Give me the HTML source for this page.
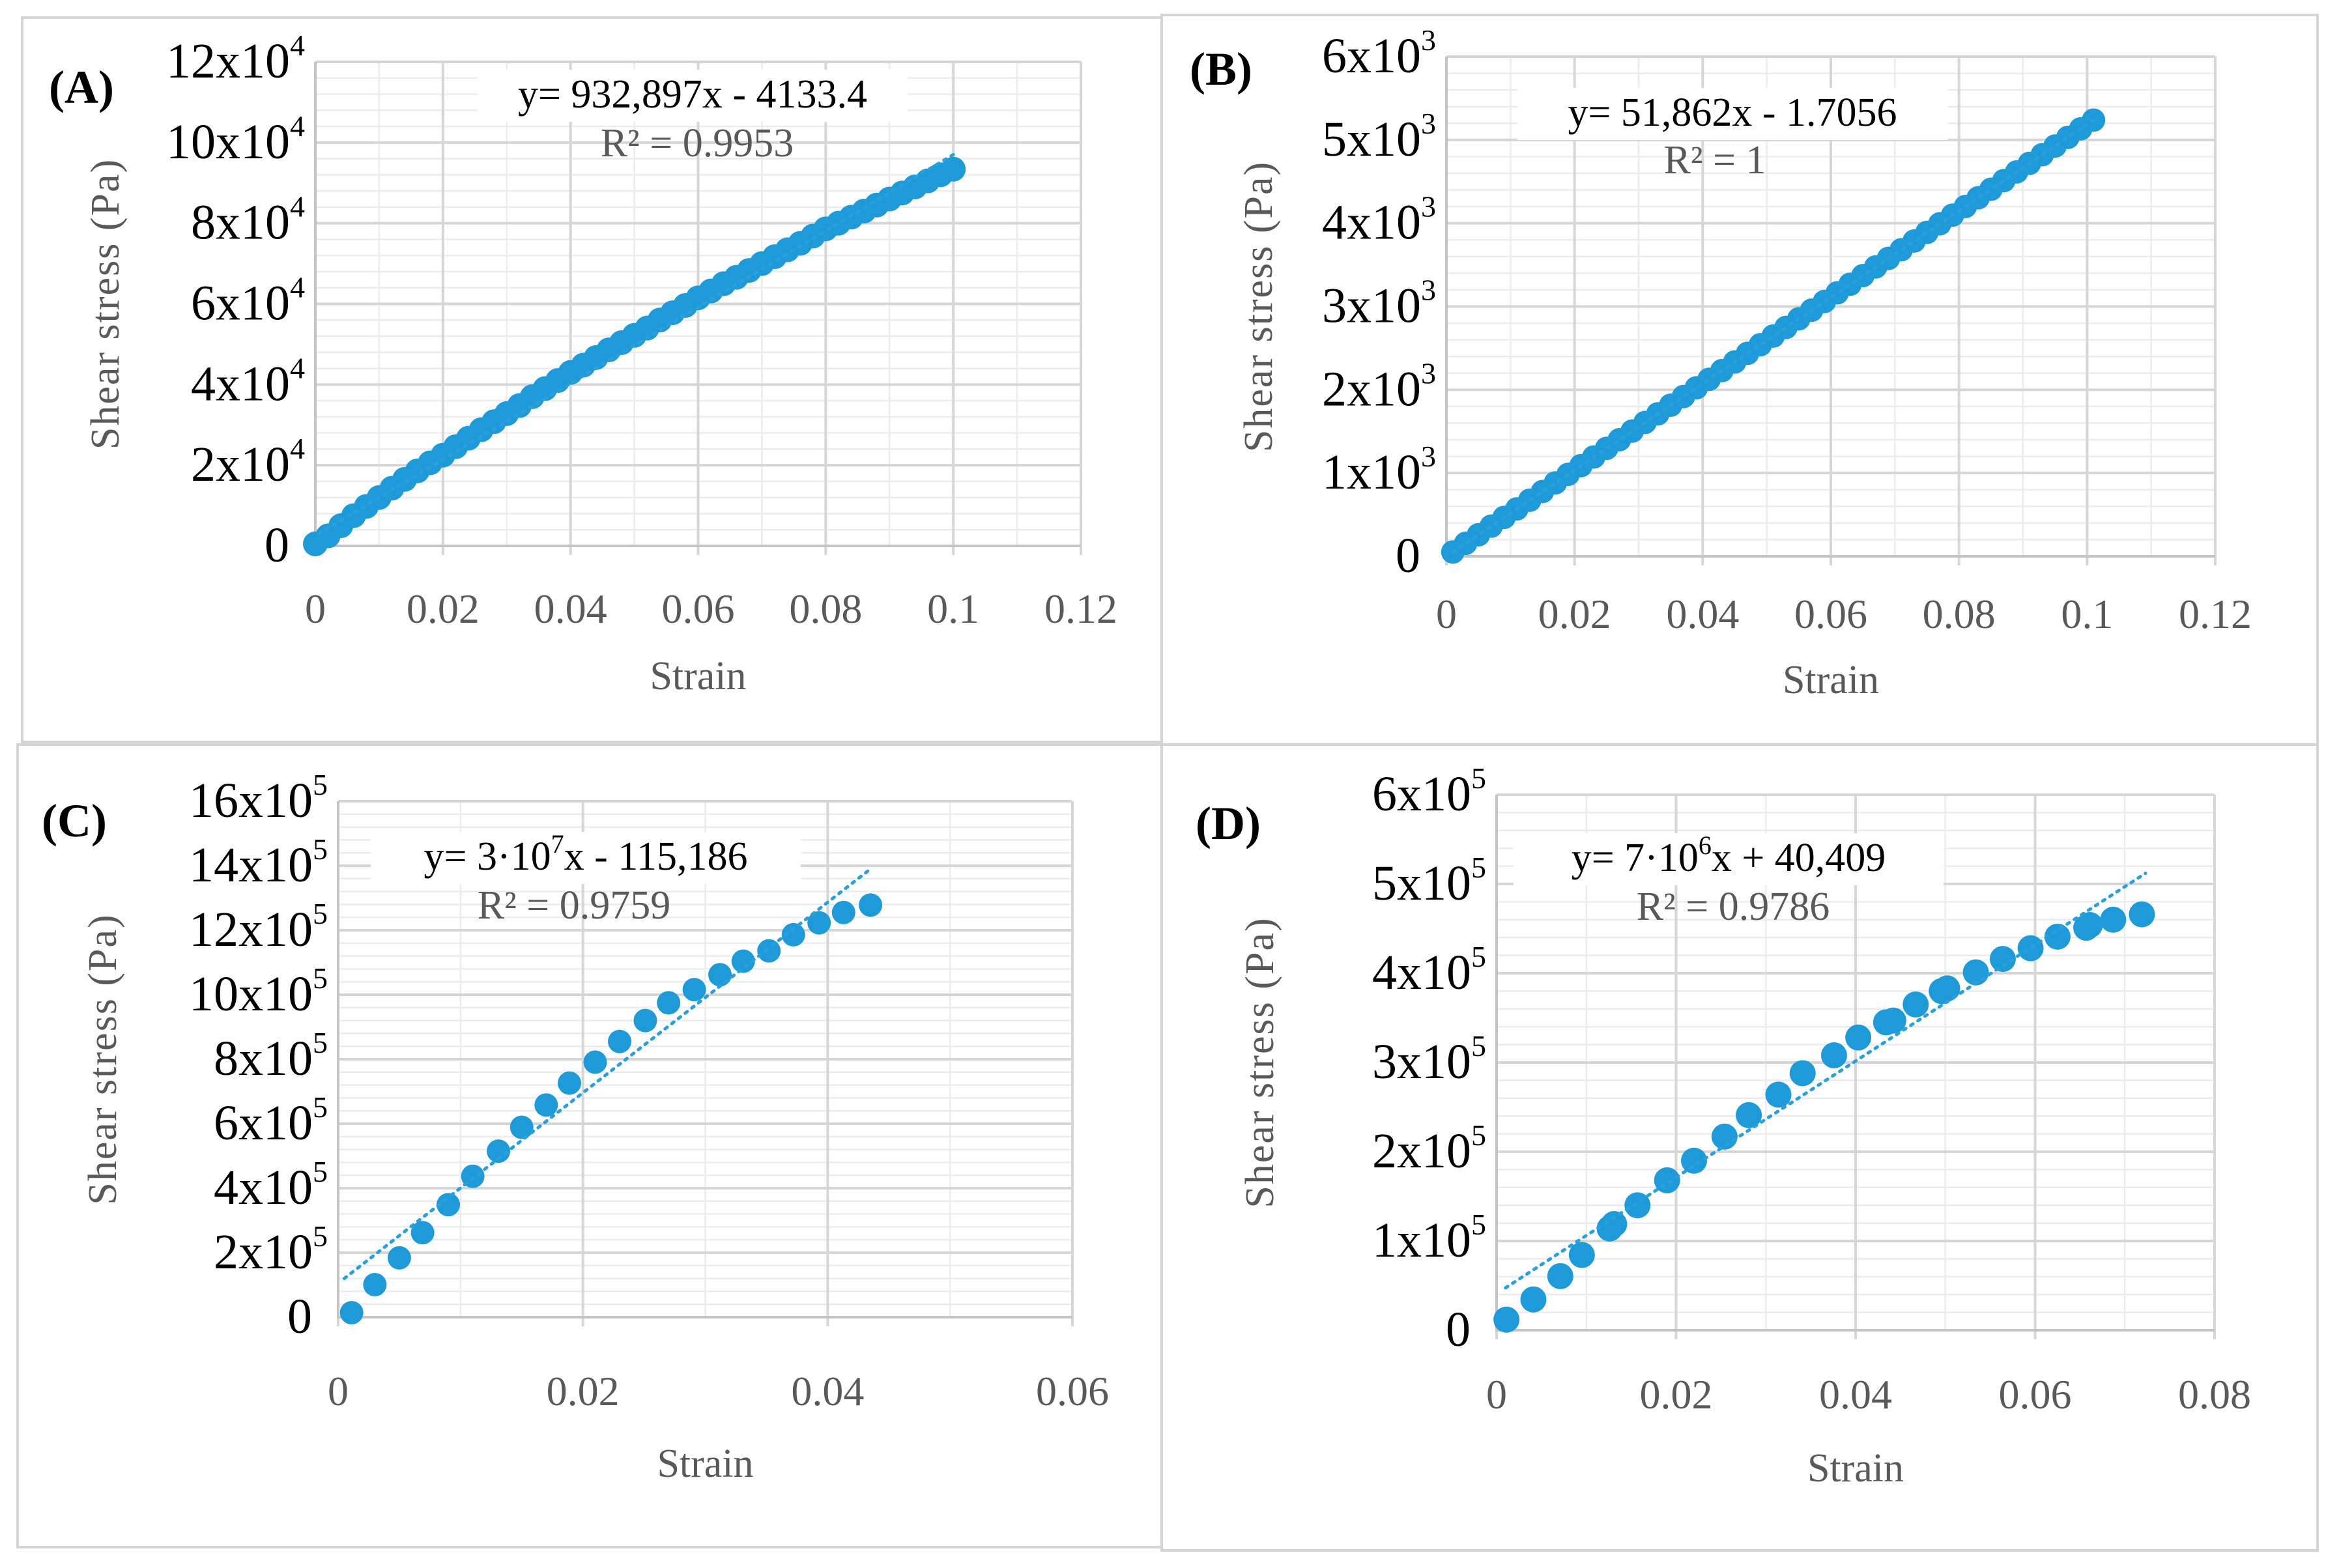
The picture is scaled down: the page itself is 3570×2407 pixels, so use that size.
<!DOCTYPE html>
<html><head><meta charset="utf-8"><style>
html,body{margin:0;padding:0;background:#fff}
svg{display:block}
text{font-family:"Liberation Serif",serif}
</style></head><body>
<svg id="fig" width="3570" height="2407" viewBox="0 0 3570 2407" xmlns="http://www.w3.org/2000/svg">
<rect x="0" y="0" width="3570" height="2407" fill="#fff"/>
</svg>
<script>
// Panel A data
const aX=[0,0.002,0.004,0.006,0.008,0.01,0.012,0.014,0.016,0.018,0.02,0.022,0.024,0.026,0.028,0.03,0.032,0.034,0.036,0.038,0.04,0.042,0.044,0.046,0.048,0.05,0.052,0.054,0.056,0.058,0.06,0.062,0.064,0.066,0.068,0.07,0.072,0.074,0.076,0.078,0.08,0.082,0.084,0.086,0.088,0.09,0.092,0.094,0.096,0.098,0.1];
const aY=[500,2500,5000,7500,9800,12000,14300,16500,18600,20600,22500,24600,26700,28800,30800,32800,34800,37000,39000,41000,43000,44800,46700,48600,50400,52200,54000,56000,57800,59600,61500,63200,65000,66600,68300,70000,71700,73400,75000,76800,78600,80000,81500,83000,84500,86000,87500,89000,90500,92000,93400];
const aTrendX=[0.0005,0.1];
const aTrendY=[3000,97000];
const aXTicks=["0","0.02","0.04","0.06","0.08","0.1","0.12"];
const aYTicks=[["0",""],["2x10","4"],["4x10","4"],["6x10","4"],["8x10","4"],["10x10","4"],["12x10","4"]];
// Panel B data
const bX=[0.001,0.003,0.005,0.007,0.009,0.011,0.013,0.015,0.017,0.019,0.021,0.023,0.025,0.027,0.029,0.031,0.033,0.035,0.037,0.039,0.041,0.043,0.045,0.047,0.049,0.051,0.053,0.055,0.057,0.059,0.061,0.063,0.065,0.067,0.069,0.071,0.073,0.075,0.077,0.079,0.081,0.083,0.085,0.087,0.089,0.091,0.093,0.095,0.097,0.099,0.101];
const bY=[52,156,259,363,467,570,674,778,882,985,1089,1193,1297,1400,1504,1608,1711,1815,1919,2023,2126,2230,2334,2438,2541,2645,2749,2852,2956,3060,3164,3267,3371,3475,3578,3682,3786,3890,3993,4097,4201,4305,4408,4512,4616,4719,4823,4927,5031,5134,5238];
const bTrendX=[0.001,0.101];
const bTrendY=[50,5236];
const bXTicks=["0","0.02","0.04","0.06","0.08","0.1","0.12"];
const bYTicks=[["0",""],["1x10","3"],["2x10","3"],["3x10","3"],["4x10","3"],["5x10","3"],["6x10","3"]];
// Panel C data
const cX=[0.0011,0.003,0.005,0.0069,0.009,0.011,0.0131,0.015,0.017,0.0189,0.021,0.023,0.0251,0.027,0.0291,0.0312,0.0331,0.0352,0.0372,0.0393,0.0413,0.0435];
const cY=[14000,101000,184000,262000,349000,437000,515000,589000,658000,726000,791000,855000,920000,975000,1016000,1062000,1104000,1136000,1186000,1223000,1255000,1278000];
const cTrendX=[0.0005,0.0435];
const cTrendY=[120000,1390000];
const cXTicks=["0","0.02","0.04","0.06"];
const cYTicks=[["0",""],["2x10","5"],["4x10","5"],["6x10","5"],["8x10","5"],["10x10","5"],["12x10","5"],["14x10","5"],["16x10","5"]];
// Panel D data
const dX=[0.0011,0.0041,0.0071,0.0095,0.0126,0.0131,0.0157,0.019,0.022,0.0254,0.0281,0.0314,0.0341,0.0376,0.0403,0.0434,0.0442,0.0467,0.0496,0.0502,0.0534,0.0564,0.0595,0.0625,0.0657,0.0661,0.0687,0.0719];
const dY=[11900,34500,60600,84300,114000,119000,140000,168000,190000,217000,241000,264000,288000,308000,328000,345000,347000,365000,380000,383000,401000,416000,428000,441000,451000,454000,460000,466000];
const dTrendX=[0.001,0.0723];
const dTrendY=[47500,512000];
const dXTicks=["0","0.02","0.04","0.06","0.08"];
const dYTicks=[["0",""],["1x10","5"],["2x10","5"],["3x10","5"],["4x10","5"],["5x10","5"],["6x10","5"]];

const NS="http://www.w3.org/2000/svg";
const svg=document.getElementById('fig');
function mk(tag,attrs,parent){const e=document.createElementNS(NS,tag);for(const k in attrs)e.setAttribute(k,attrs[k]);(parent||svg).appendChild(e);return e;}

function panel(p){
  const g=mk('g',{});
  
  
  const box=mk('rect',{x:p.box[0],y:p.box[1],width:p.box[2]-p.box[0],height:p.box[3]-p.box[1],fill:'none',stroke:'#d4d4d4','stroke-width':4},g);
  
  
  const sx=v=>p.x0+(v-p.xmin)/(p.xmax-p.xmin)*(p.x1-p.x0);
  const sy=v=>p.y0-(v-p.ymin)/(p.ymax-p.ymin)*(p.y0-p.yt);
  const ny=p.yTicks.length-1, nx=p.xTicks.length-1;
  for(let i=0;i<ny;i++){for(let k=1;k<5;k++){const y=p.y0-(i+k/5)*(p.y0-p.yt)/ny;
    const l=mk('line',{x1:p.x0,x2:p.x1,y1:y,y2:y,stroke:'#ececec','stroke-width':2.5},g);
    
    }}
  for(let i=0;i<nx;i++){const x=p.x0+(i+0.5)*(p.x1-p.x0)/nx;
    const l=mk('line',{x1:x,x2:x,y1:p.yt,y2:p.y0,stroke:'#ececec','stroke-width':2.5},g);
    
    }
  p.yTicks.forEach((t,i)=>{const y=p.y0-i*(p.y0-p.yt)/ny;
    const l=mk('line',{x1:p.x0,x2:p.x1,y1:y,y2:y,stroke:'#d6d6d6','stroke-width':4},g);
    
    
    const tx=mk('text',{x:p.x0-16,y:y+24,'text-anchor':'end','font-size':76,fill:'#000'},g);
    
    
    tx.appendChild(document.createTextNode(t[0]));
    if(t[1]){const s=mk('tspan',{'font-size':46,dy:-34},tx);s.textContent=t[1];}
    else tx.setAttribute('x',p.x0-40);
  });
  p.xTicks.forEach((t,i)=>{const x=p.x0+i*(p.x1-p.x0)/nx;
    const l=mk('line',{x1:x,x2:x,y1:p.yt,y2:p.y0+14,stroke:'#d6d6d6','stroke-width':4},g);
    
    
    const tx=mk('text',{x:x,y:p.y0+p.xtOff,'text-anchor':'middle','font-size':64,fill:'#595959'},g);
    
    
    tx.textContent=t;});
  const ax=mk('path',{d:`M${p.x0},${p.yt}V${p.y0}H${p.x1}`,fill:'none',stroke:'#c4c4c4','stroke-width':4},g);
  
  
  const eb=mk('rect',{x:p.eq[0]-330,y:p.eq[1]-58,width:660,height:80,fill:'#fff'},g);
  
  
  p.xs.forEach((xv,i)=>{const c=mk('circle',{cx:sx(xv),cy:sy(p.ys[i]),r:p.r,fill:'#1f9ad8'},g);
    
    });
  const tl=mk('line',{x1:sx(p.tx[0]),y1:sy(p.ty[0]),x2:sx(p.tx[1]),y2:sy(p.ty[1]),stroke:'#2a9fdb','stroke-width':5,'stroke-dasharray':'4 9','stroke-linecap':'round'},g);
  
  
  const et=mk('text',{x:p.eq[0],y:p.eq[1],'text-anchor':'middle','font-size':62,fill:'#000'},g);
  
  
  p.eqParts.forEach(pt=>{const s=mk('tspan',pt[1]?{'font-size':40,dy:-26}:{dy:pt[2]||0},et);s.textContent=pt[0];});
  const rt=mk('text',{x:p.r2[0],y:p.r2[1],'text-anchor':'middle','font-size':62,fill:'#595959'},g);
  
  
  rt.textContent=p.r2t;
  const lt=mk('text',{x:p.lab[0],y:p.lab[1],'text-anchor':'middle','font-size':72,'font-weight':'bold',fill:'#000'},g);
  
  
  lt.textContent=p.letter;
  const st=mk('text',{x:(p.x0+p.x1)/2,y:p.y0+p.stOff,'text-anchor':'middle','font-size':62,fill:'#595959'},g);
  
  
  st.textContent='Strain';
  const yc=(p.y0+p.yt)/2;
  const yl=mk('text',{x:p.ylx,y:yc,'text-anchor':'middle','font-size':62,fill:'#595959',transform:`rotate(-90 ${p.ylx} ${yc})`,'letter-spacing':2},g);
  
  
  yl.textContent='Shear stress (Pa)';
}

panel({id:'a',box:[34,27,1783,1139],x0:484,x1:1659,y0:838,yt:95,xmin:0,xmax:0.12,ymin:0,ymax:120000,
  xs:aX,ys:aY,tx:aTrendX,ty:aTrendY,xTicks:aXTicks,yTicks:aYTicks,r:19,xtOff:118,stOff:220,ylx:182,
  eq:[1063,165],eqParts:[["y= 932,897x - 4133.4"]],r2:[1070,240],r2t:"R² = 0.9953",lab:[125,158],letter:"(A)"});
panel({id:'b',box:[1783,23,3557,1143],x0:2220,x1:3400,y0:854,yt:87,xmin:0,xmax:0.12,ymin:0,ymax:6000,
  xs:bX,ys:bY,tx:bTrendX,ty:bTrendY,xTicks:bXTicks,yTicks:bYTicks,r:18,xtOff:110,stOff:210,ylx:1952,
  eq:[2659,193],eqParts:[["y= 51,862x - 1.7056"]],r2:[2632,266],r2t:"R² = 1",lab:[1874,130],letter:"(B)"});
panel({id:'c',box:[27,1143,1783,2375],x0:519,x1:1646,y0:2022,yt:1230,xmin:0,xmax:0.06,ymin:0,ymax:1600000,
  xs:cX,ys:cY,tx:cTrendX,ty:cTrendY,xTicks:cXTicks,yTicks:cYTicks,r:18,xtOff:135,stOff:245,ylx:178,
  eq:[899,1335],eqParts:[["y= 3·10"],["7",true],["x - 115,186",false,26]],r2:[881,1410],r2t:"R² = 0.9759",lab:[114,1284],letter:"(C)"});
panel({id:'d',box:[1783,1143,3557,2380],x0:2297,x1:3399,y0:2042,yt:1220,xmin:0,xmax:0.08,ymin:0,ymax:600000,
  xs:dX,ys:dY,tx:dTrendX,ty:dTrendY,xTicks:dXTicks,yTicks:dYTicks,r:20,xtOff:120,stOff:232,ylx:1954,
  eq:[2653,1337],eqParts:[["y= 7·10"],["6",true],["x + 40,409",false,26]],r2:[2660,1412],r2t:"R² = 0.9786",lab:[1885,1288],letter:"(D)"});
</script>
</body></html>
